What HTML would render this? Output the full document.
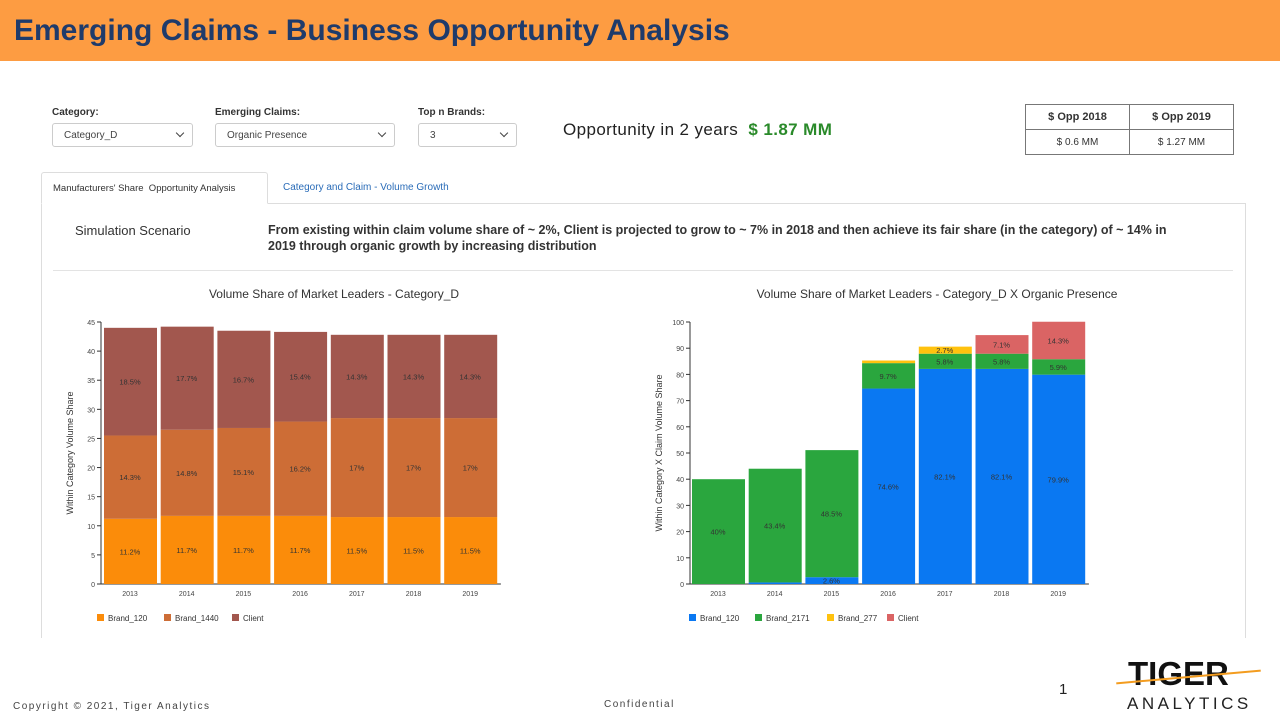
<!DOCTYPE html>
<html><head><meta charset="utf-8"><style>
body{margin:0;width:1280px;height:720px;background:#fff;font-family:"Liberation Sans",sans-serif;overflow:hidden;position:relative}
.a{position:absolute}
.sel{position:absolute;height:24px;border:1px solid #ccc;border-radius:3px;font-size:10px;color:#444;box-sizing:border-box;padding:6px 0 0 11px}
.sel:after{content:"";position:absolute;right:9px;top:6px;width:5px;height:5px;border-right:1.5px solid #444;border-bottom:1.5px solid #444;transform:rotate(45deg)}
.lbl{position:absolute;font-size:10px;font-weight:bold;color:#333}
</style></head><body>
<div class="a" style="left:0;top:0;width:1280px;height:61px;background:#fd9c42"></div>
<div class="a" style="left:14px;top:14px;font-size:30px;font-weight:bold;color:#1f3b6b">Emerging Claims - Business Opportunity Analysis</div>

<div class="lbl" style="left:52px;top:107px">Category:</div>
<div class="sel" style="left:52px;top:123px;width:141px">Category_D</div>
<div class="lbl" style="left:215px;top:107px">Emerging Claims:</div>
<div class="sel" style="left:215px;top:123px;width:180px">Organic Presence</div>
<div class="lbl" style="left:418px;top:107px">Top n Brands:</div>
<div class="sel" style="left:418px;top:123px;width:99px">3</div>
<div class="a" style="left:563px;top:120px;font-size:17px;color:#222;letter-spacing:0.4px">Opportunity in 2 years <span style="color:#2a8a2a;font-weight:bold">&nbsp;$ 1.87 MM</span></div>

<table class="a" style="left:1025px;top:104px;border-collapse:collapse;font-size:10px;color:#333;text-align:center">
<tr><td style="border:1.5px solid #777;width:101px;height:22px;font-weight:bold;font-size:11px">$ Opp 2018</td><td style="border:1.5px solid #777;width:101px;font-weight:bold;font-size:11px">$ Opp 2019</td></tr>
<tr><td style="border:1.5px solid #777;height:22px">$ 0.6 MM</td><td style="border:1.5px solid #777">$ 1.27 MM</td></tr></table>

<div class="a" style="left:41px;top:203px;width:1203px;height:434px;border:1px solid #ddd;border-bottom:none"></div>
<div class="a" style="left:41px;top:172px;width:227px;height:32px;border:1px solid #ddd;border-bottom:1px solid #fff;background:#fff;border-radius:3px 3px 0 0;font-size:9.5px;color:#333;box-sizing:border-box;padding:10px 0 0 11px">Manufacturers' Share&nbsp; Opportunity Analysis</div>
<div class="a" style="left:283px;top:182px;font-size:10px;color:#2a6cb8">Category and Claim - Volume Growth</div>

<div class="a" style="left:75px;top:223px;font-size:13px;color:#333">Simulation Scenario</div>
<div class="a" style="left:268px;top:222px;width:922px;font-size:12.5px;line-height:16px;color:#333;font-weight:bold">From existing within claim volume share of ~ 2%, Client is projected to grow to ~ 7% in 2018 and then achieve its fair share (in the category) of ~ 14% in 2019 through organic growth by increasing distribution</div>
<div class="a" style="left:53px;top:270px;width:1180px;height:1px;background:#e3e3e3"></div>

<svg class="a" style="left:0;top:0" width="1280" height="720" font-family="Liberation Sans, sans-serif">
<text x="334" y="298" font-size="12" text-anchor="middle" fill="#333">Volume Share of Market Leaders - Category_D</text>
<text x="937" y="298" font-size="12" text-anchor="middle" fill="#333">Volume Share of Market Leaders - Category_D X Organic Presence</text>
<g id="L"></g><g id="R"></g>
</svg>
<script>
function el(p,t,a,txt){var e=document.createElementNS("http://www.w3.org/2000/svg",t);for(var k in a)e.setAttribute(k,a[k]);if(txt!=null)e.textContent=txt;p.appendChild(e);return e;}
var yrs=[2013,2014,2015,2016,2017,2018,2019];
function chart(g,ax,x0,max,ticks,series,colors,names,ytitle,legx,legw){
 var y0=584,h=262,sc=h/max,st=56.7;
 el(g,"line",{x1:ax,y1:322,x2:ax,y2:y0,stroke:"#333"});
 el(g,"line",{x1:ax,y1:y0,x2:x0+7*st,y2:y0,stroke:"#333"});
 for(var v=0;v<=max;v+=ticks){var y=y0-v*sc;el(g,"line",{x1:ax-4,y1:y,x2:ax,y2:y,stroke:"#333"});el(g,"text",{x:ax-6,y:y+3,"font-size":7,"text-anchor":"end",fill:"#444"},v);}
 el(g,"text",{transform:"translate("+(ax-28)+",453) rotate(-90)","font-size":9,"text-anchor":"middle",fill:"#333"},ytitle);
 for(var i=0;i<7;i++){var x=x0+i*st,c=0;
  el(g,"text",{x:x+26,y:y0+12,"font-size":7,"text-anchor":"middle",fill:"#444"},yrs[i]);
  for(var s=0;s<series.length;s++){var v=series[s][i];if(!v)continue;var y=y0-(c+v)*sc;
   el(g,"rect",{x:x,y:y,width:53,height:v*sc,fill:colors[s]});
   if(v>=2)el(g,"text",{x:x+26,y:y+v*sc/2+3,"font-size":7.5,"text-anchor":"middle",fill:"#333"},(+v.toFixed(1))+"%");
   c+=v;}}
 var lx=legx;for(var s=0;s<names.length;s++){el(g,"rect",{x:lx,y:614,width:7,height:7,fill:colors[s]});el(g,"text",{x:lx+11,y:621,"font-size":8,fill:"#333"},names[s]);lx+=legw[s];}
}
chart(document.getElementById("L"),101,104,45,5,
 [[11.2,11.7,11.7,11.7,11.5,11.5,11.5],[14.3,14.8,15.1,16.2,17,17,17],[18.5,17.7,16.7,15.4,14.3,14.3,14.3]],
 ["#fb8c0a","#cd6d36","#a2574e"],["Brand_120","Brand_1440","Client"],"Within Category Volume Share",97,[67,68,60]);
chart(document.getElementById("R"),690,692,100,10,
 [[0,0.6,2.6,74.6,82.1,82.1,79.9],[40,43.4,48.5,9.7,5.8,5.8,5.9],[0,0,0,1,2.7,0,0],[0,0,0,0,0,7.1,14.3]],
 ["#0a78f2","#2aa63e","#ffc20e","#da6464"],["Brand_120","Brand_2171","Brand_277","Client"],"Within Category X Claim Volume Share",689,[66,72,60,60]);
</script>

<div class="a" style="left:13px;top:701px;font-size:10px;letter-spacing:1.5px;color:#444">Copyright © 2021, Tiger Analytics</div>
<div class="a" style="left:604px;top:699px;font-size:10px;letter-spacing:1.5px;color:#444">Confidential</div>
<div class="a" style="left:1059px;top:681px;font-size:15px;color:#222">1</div>
<div class="a" style="left:1128px;top:655px;font-size:33px;font-weight:bold;color:#111;letter-spacing:0px">TIGER</div>
<div class="a" style="left:1116px;top:676px;width:145px;height:2px;background:#f39c1f;transform:rotate(-5deg)"></div>
<div class="a" style="left:1127px;top:694px;font-size:17px;color:#222;letter-spacing:3.5px">ANALYTICS</div>
</body></html>
